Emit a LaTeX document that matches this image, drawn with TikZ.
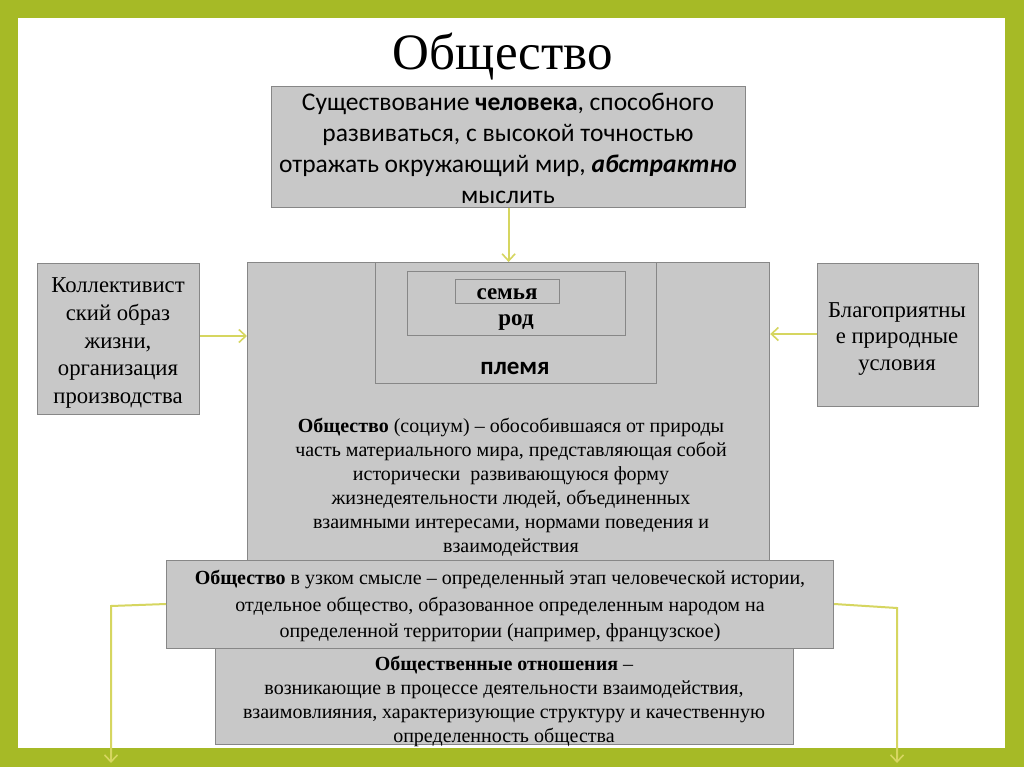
\documentclass[tikz,border=0pt]{standalone}
\usepackage{fontspec}
\setmainfont{Liberation Serif}
\newfontfamily\calib{Carlito}
\usetikzlibrary{arrows.meta}
\definecolor{framegreen}{RGB}{166,186,38}
\definecolor{boxfill}{RGB}{200,200,200}
\definecolor{boxline}{RGB}{135,135,135}
\definecolor{arrowcol}{RGB}{214,214,96}
\tikzset{
  gbox/.style={draw=boxline, fill=boxfill, line width=1.2pt, inner sep=0pt, anchor=north west},
  txt/.style={inner sep=0pt, align=center},
  conn/.style={draw=arrowcol, line width=2pt, -{Straight Barb[length=7pt,width=13pt,line width=1.6pt]}}
}
\begin{document}
\begin{tikzpicture}[x=1pt,y=-1pt]
\useasboundingbox (0,0) rectangle (1024,767);
\fill[framegreen] (0,0) rectangle (1024,767);
\fill[white] (18,18) rectangle (1005,748);

% title
\node[txt, font={\fontsize{51}{55}\selectfont}] (title) at (503,57) {Общество};

% top box
\node[gbox, minimum width=474pt, minimum height=121pt] (top) at (271,86) {};
\node[txt, font={\calib\fontsize{25.5}{31}\selectfont}] (toptxt) at (508,148)
  {Существование \textbf{человека}, способного\\развиваться, с высокой точностью\\отражать окружающий мир, \textbf{\textit{абстрактно}}\\мыслить};

% main box
\node[gbox, minimum width=522pt, minimum height=320pt] (main) at (247,262) {};
\node[gbox, minimum width=281pt, minimum height=121pt] (plemya) at (375,262) {};
\node[gbox, minimum width=218pt, minimum height=64pt] (rod) at (407,271) {};
\node[gbox, minimum width=104pt, minimum height=24pt] (semya) at (455,279) {};
\node[txt, font={\bfseries\fontsize{23}{24}\selectfont}] (semyatxt) at (507,294) {семья};
\node[txt, font={\bfseries\fontsize{23}{24}\selectfont}] (rodtxt) at (516,323) {род};
\node[txt, font={\calib\bfseries\fontsize{25}{26}\selectfont}] (plemyatxt) at (515,368) {племя};
\node[txt, font={\fontsize{20}{24}\selectfont}] (maintxt) at (511,487)
  {\textbf{Общество} (социум) – обособившаяся от природы\\часть материального мира, представляющая собой\\исторически\ \ развивающуюся форму\\жизнедеятельности людей, объединенных\\взаимными интересами, нормами поведения и\\взаимодействия};

% side boxes
\node[gbox, minimum width=162pt, minimum height=151pt] (left) at (37,263) {};
\node[txt, font={\fontsize{22.7}{27.8}\selectfont}] (lefttxt) at (118,343)
  {Коллективист\\ский образ\\жизни,\\организация\\производства};
\node[gbox, minimum width=161pt, minimum height=143pt] (right) at (817,263) {};
\node[txt, font={\fontsize{22.7}{26.5}\selectfont}] (righttxt) at (897,339)
  {Благоприятны\\е природные\\условия};

% bottom box
\node[gbox, minimum width=578pt, minimum height=96pt] (bottom) at (215,648) {};
\node[txt, font={\fontsize{20}{24}\selectfont}] (bottomtxt) at (504,701)
  {\textbf{Общественные отношения} –\\возникающие в процессе деятельности взаимодействия,\\взаимовлияния, характеризующие структуру и качественную\\определенность общества};

% narrow box
\node[gbox, minimum width=667pt, minimum height=88pt] (narrow) at (166,560) {};
\node[txt, font={\fontsize{20}{26.5}\selectfont}] (narrowtxt) at (500,606)
  {\textbf{Общество} в узком смысле – определенный этап человеческой истории,\\отдельное общество, образованное определенным народом на\\определенной территории (например, французское)};

% connectors
\draw[conn] (top.south) -- (top.south |- main.north);
\draw[conn] (left.east |- 0,336) -- (main.west |- 0,336);
\draw[conn] (right.west |- 0,334) -- (main.east |- 0,334);
\coordinate (lend) at (111,763);
\coordinate (rend) at (897,763);
\draw[conn] (narrow.west |- 0,604) -- (111,606) -- (lend);
\draw[conn] (narrow.east |- 0,604) -- (897,608) -- (rend);
\end{tikzpicture}
\end{document}
